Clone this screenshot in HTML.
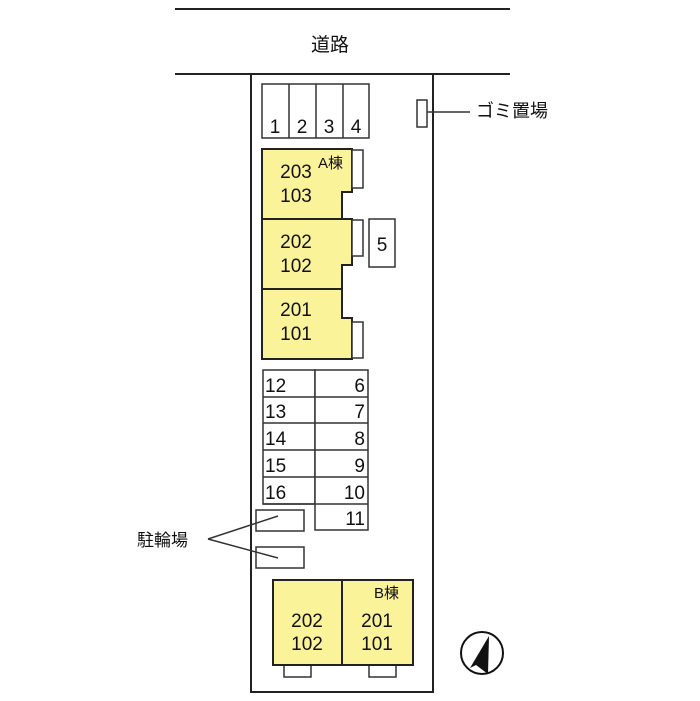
<!DOCTYPE html>
<html><head><meta charset="utf-8"><style>
html,body{margin:0;padding:0;background:#fff;}
svg{display:block;}
text{font-family:"Liberation Sans","Noto Sans CJK JP",sans-serif;fill:#111;}
</style></head><body>
<svg width="700" height="701" viewBox="0 0 700 701" xmlns="http://www.w3.org/2000/svg">
<g stroke="#222" stroke-width="2" fill="none">
<line x1="175" y1="9" x2="510" y2="9"/>
<line x1="175" y1="74" x2="510" y2="74"/>
<polyline points="251,74 251,692 433,692 433,74"/>
</g>
<text x="330" y="51" font-size="19" text-anchor="middle">道路</text>
<!-- parking 1-4 -->
<g stroke="#333" stroke-width="1.5" fill="#fff">
<rect x="262" y="84" width="107" height="54"/>
<line x1="289" y1="84" x2="289" y2="138"/>
<line x1="316" y1="84" x2="316" y2="138"/>
<line x1="343" y1="84" x2="343" y2="138"/>
</g>
<g font-size="19" text-anchor="middle">
<text x="275" y="133">1</text><text x="302" y="133">2</text><text x="329" y="133">3</text><text x="356" y="133">4</text>
</g>
<!-- trash -->
<rect x="417" y="100" width="10" height="27" fill="#fff" stroke="#333" stroke-width="1.5"/>
<line x1="427" y1="112" x2="470" y2="112" stroke="#333" stroke-width="1.5"/>
<text x="476" y="117" font-size="18">ゴミ置場</text>
<!-- A building -->
<g stroke="#222" stroke-width="2" fill="#fbf39a">
<polygon points="262,149 352,149 352,192 342,192 342,219 262,219"/>
<polygon points="262,219 352,219 352,265 342,265 342,289 262,289"/>
<polygon points="262,289 342,289 342,318 352,318 352,359 262,359"/>
</g>
<g stroke="#333" stroke-width="1.5" fill="#fff">
<rect x="352" y="150" width="11" height="38"/>
<rect x="352" y="220" width="11" height="36"/>
<rect x="352" y="322" width="11" height="36"/>
<rect x="369" y="219" width="26" height="48"/>
</g>
<text x="318" y="168" font-size="15">A棟</text>
<g font-size="19" text-anchor="middle">
<text x="296" y="178">203</text><text x="296" y="202">103</text>
<text x="296" y="248">202</text><text x="296" y="272">102</text>
<text x="296" y="316">201</text><text x="296" y="340">101</text>
<text x="382" y="251">5</text>
</g>
<!-- parking grid -->
<g stroke="#333" stroke-width="1.5" fill="#fff">
<rect x="263" y="370" width="52" height="134"/>
<rect x="315" y="370" width="53" height="160"/>
<line x1="263" y1="397" x2="368" y2="397"/>
<line x1="263" y1="423" x2="368" y2="423"/>
<line x1="263" y1="450" x2="368" y2="450"/>
<line x1="263" y1="477" x2="368" y2="477"/>
<line x1="263" y1="504" x2="368" y2="504"/>
<rect x="256" y="510" width="48" height="21"/>
<rect x="256" y="547" width="48" height="21"/>
</g>
<g font-size="19">
<text x="265" y="392">12</text><text x="265" y="418">13</text><text x="265" y="445">14</text><text x="265" y="472">15</text><text x="265" y="499">16</text>
</g>
<g font-size="19" text-anchor="end">
<text x="365" y="392">6</text><text x="365" y="418">7</text><text x="365" y="445">8</text><text x="365" y="472">9</text><text x="365" y="499">10</text><text x="365" y="525">11</text>
</g>
<g stroke="#333" stroke-width="1.5">
<line x1="208" y1="539" x2="278" y2="516"/>
<line x1="208" y1="539" x2="278" y2="558"/>
</g>
<text x="137" y="546" font-size="17">駐輪場</text>
<!-- B building -->
<g stroke="#333" stroke-width="1.5" fill="#fff">
<rect x="284" y="665" width="27" height="12"/>
<rect x="369" y="665" width="27" height="12"/>
</g>
<g stroke="#222" stroke-width="2" fill="#fbf39a">
<rect x="273" y="580" width="69" height="85"/>
<rect x="342" y="580" width="71" height="85"/>
</g>
<text x="374" y="598" font-size="15">B棟</text>
<g font-size="19" text-anchor="middle">
<text x="307" y="627">202</text><text x="307" y="650">102</text>
<text x="377" y="627">201</text><text x="377" y="650">101</text>
</g>
<!-- compass -->
<circle cx="482" cy="653" r="21" fill="#fff" stroke="#111" stroke-width="2"/>
<polygon points="489,636 470,668 476,665 488,674" fill="#111"/>
</svg>
</body></html>
